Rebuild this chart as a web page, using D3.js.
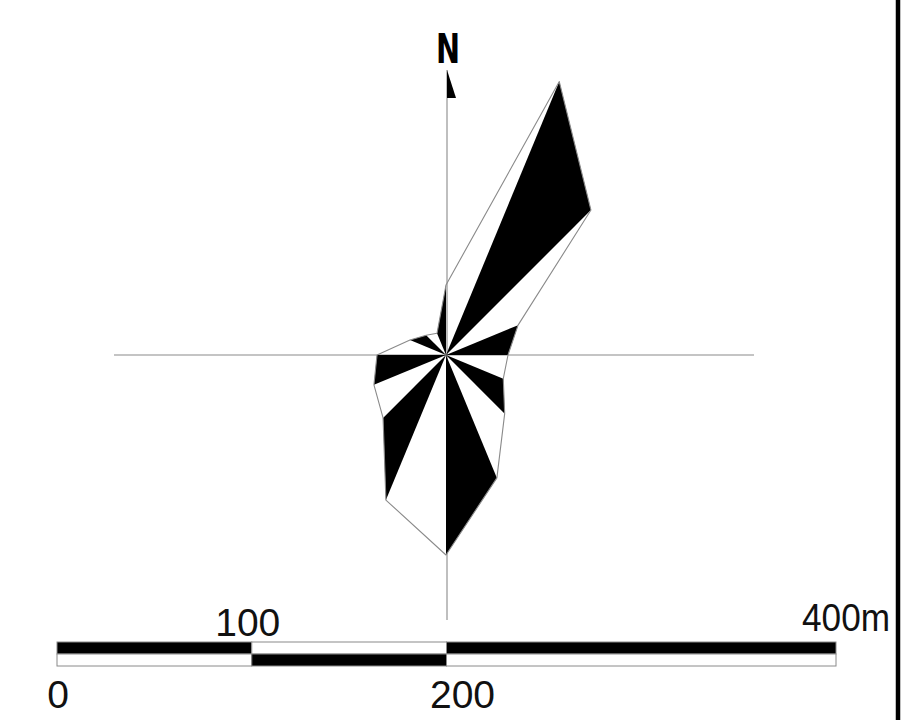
<!DOCTYPE html>
<html>
<head>
<meta charset="utf-8">
<script src="https://cdn.jsdelivr.net/npm/d3@7"></script>
<style>
  html, body { margin: 0; padding: 0; background: #fff; }
  svg { display: block; }
  .axisLine { stroke: #8a8a8a; stroke-width: 1.1; fill: none; }
  .roseEdge { stroke: #8a8a8a; stroke-width: 1.1; fill: none; stroke-linejoin: round; }
  .scaleText { font-family: 'Liberation Sans', Arial, sans-serif; font-size: 39px; fill: #111; }
</style>
</head>
<body>
<svg id="rose" width="922" height="720"></svg>
<script>
// 16 compass directions, clockwise from north
var directions = ['N', 'NNE', 'NE', 'ENE', 'E', 'ESE', 'SE', 'SSE', 'S', 'SSW', 'SW', 'WSW', 'W', 'WNW', 'NW', 'NNW']
// frequency
var frequency = [7.0, 29.6, 20.5, 7.8, 6.2, 6.2, 8.3, 13.3, 20.0, 15.7, 8.9, 7.8, 6.9, 3.9, 2.8, 2.35]

// scale bar, metres
var barBreaks = [0, 100, 200, 400]
var barTopBlack = [true, false, true]
var barLabels = ['0', '100', '200', '400m']

var svg = d3.select('#rose')
var cx = 446, cy = 355

var angle = d3.scalePoint().domain(directions).range([0, 2 * Math.PI * 15 / 16])
var radius = d3.scaleLinear().domain([0, 30]).range([0, 300])

var pts = directions.map(function (d, i) {
  var p = d3.pointRadial(angle(d), radius(frequency[i]))
  return [cx + p[0], cy + p[1]]
})

// cross hair
svg.append('line').attr('class', 'axisLine')
  .attr('x1', 114).attr('x2', 754).attr('y1', cy).attr('y2', cy)
svg.append('line').attr('class', 'axisLine')
  .attr('x1', cx + 1).attr('x2', cx + 1).attr('y1', 70).attr('y2', 620)

// north flag
svg.append('path')
  .attr('d', 'M' + (cx + 1) + ',70 L' + (cx + 10) + ',98 L' + (cx + 1) + ',98 Z')
  .attr('fill', '#000')
svg.append('text')
  .attr('x', cx + 2).attr('y', 63)
  .attr('text-anchor', 'middle')
  .style('font-family', "'DejaVu Sans Condensed', 'DejaVu Sans', sans-serif")
  .style('font-weight', 'bold')
  .style('font-size', '41px')
  .attr('transform', 'translate(' + (cx + 2) + ',0) scale(0.78,1) translate(' + -(cx + 2) + ',0)')
  .text('N')

// alternating sectors, every second one black
var sectors = d3.range(directions.length).filter(function (i) { return i % 2 === 1 })
svg.selectAll('.sector')
  .data(sectors)
  .enter().append('path')
  .attr('class', 'sector')
  .attr('d', function (i) {
    var a = pts[i], b = pts[(i + 1) % pts.length]
    return 'M' + cx + ',' + cy + 'L' + a[0] + ',' + a[1] + 'L' + b[0] + ',' + b[1] + 'Z'
  })
  .attr('fill', '#000')

svg.append('path')
  .attr('class', 'roseEdge')
  .attr('d', d3.line()(pts) + 'Z')

// scale bar
var bx = d3.scaleLinear().domain([0, 400]).range([57, 836])
var barTop = 642, barMid = 654, barBot = 666

var segs = d3.range(barBreaks.length - 1)
var seg = svg.selectAll('.seg')
  .data(segs)
  .enter().append('g')
  .attr('class', 'seg')

seg.append('rect')
  .attr('x', function (i) { return bx(barBreaks[i]) })
  .attr('y', barTop)
  .attr('width', function (i) { return bx(barBreaks[i + 1]) - bx(barBreaks[i]) })
  .attr('height', barMid - barTop)
  .attr('fill', function (i) { return barTopBlack[i] ? '#000' : '#fff' })
  .attr('stroke', '#8a8a8a').attr('stroke-width', 1)

seg.append('rect')
  .attr('x', function (i) { return bx(barBreaks[i]) })
  .attr('y', barMid)
  .attr('width', function (i) { return bx(barBreaks[i + 1]) - bx(barBreaks[i]) })
  .attr('height', barBot - barMid)
  .attr('fill', function (i) { return barTopBlack[i] ? '#fff' : '#000' })
  .attr('stroke', '#8a8a8a').attr('stroke-width', 1)

// labels alternate below / above the bar
svg.selectAll('.scaleText')
  .data(barLabels)
  .enter().append('text')
  .attr('class', 'scaleText')
  .attr('x', function (d, i) {
    if (i === barLabels.length - 1) return bx(barBreaks[i]) + 54
    return bx(barBreaks[i]) + (i === 2 ? 16 : i === 1 ? -4 : 1)
  })
  .attr('y', function (d, i) { return i % 2 === 0 ? 708 : (i === 3 ? 631 : 636) })
  .attr('text-anchor', function (d, i) { return i === barLabels.length - 1 ? 'end' : 'middle' })
  .attr('textLength', function (d, i) { return i === barLabels.length - 1 ? 88 : null })
  .attr('lengthAdjust', 'spacingAndGlyphs')
  .text(function (d) { return d })

// right frame edge
svg.append('line')
  .attr('x1', 898).attr('x2', 898).attr('y1', 0).attr('y2', 720)
  .attr('stroke', '#000').attr('stroke-width', 4.5)
</script>
</body>
</html>
